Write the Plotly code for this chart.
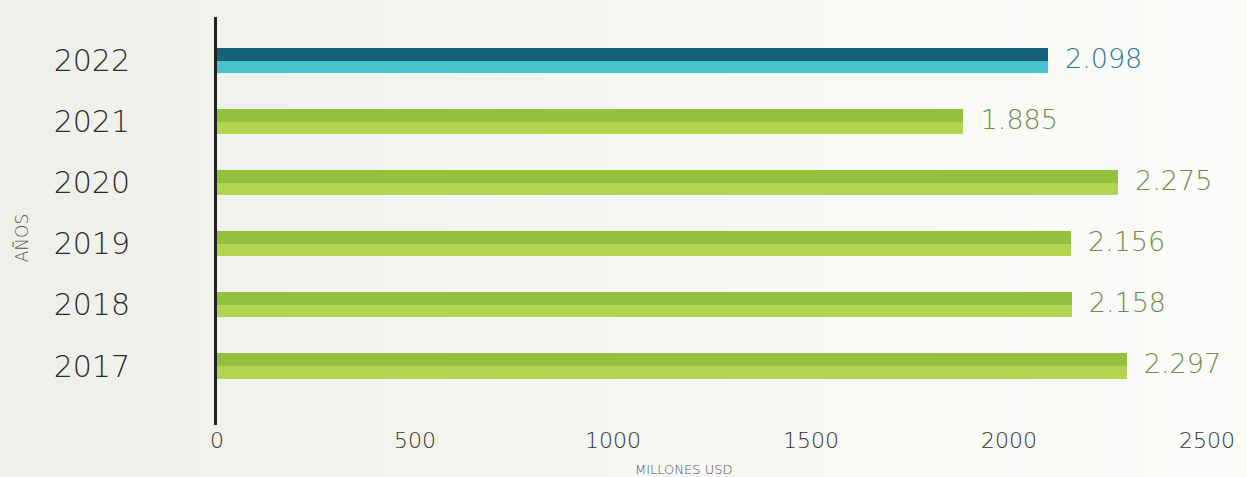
import plotly.graph_objects as go

years = ["2017", "2018", "2019", "2020", "2021", "2022"]
values = [2297, 2158, 2156, 2275, 1885, 2098]
dark_colors = ["#93C13E", "#93C13E", "#93C13E", "#93C13E", "#93C13E", "#15607A"]
light_colors = ["#B2D452", "#B2D452", "#B2D452", "#B2D452", "#B2D452", "#48C3CB"]
label_colors = ["#6E8C4C", "#6E8C4C", "#6E8C4C", "#6E8C4C", "#6E8C4C", "#2E7891"]
x_ticks = [0, 500, 1000, 1500, 2000, 2500]

labels = [f"{v:,}".replace(",", ".") for v in values]

FONT = "DejaVu Sans"

fig = go.Figure()
half = 0.205
fig.add_trace(go.Bar(y=years, x=values, orientation="h", marker=dict(color=dark_colors, line=dict(width=0)),
                     width=half, offset=0, hoverinfo="skip", showlegend=False))
fig.add_trace(go.Bar(y=years, x=values, orientation="h", marker=dict(color=light_colors, line=dict(width=0)),
                     width=half, offset=-half, hoverinfo="skip", showlegend=False))
fig.add_trace(go.Scatter(y=years, x=values, mode="text", text=["  " + t for t in labels],
                         textposition="middle right",
                         textfont=dict(family=FONT, size=27, color=label_colors, weight=200),
                         hoverinfo="skip", showlegend=False, cliponaxis=False))

# background gradient strips
shapes = []
n = 60
c0 = (239, 239, 233)
c1 = (252, 252, 250)
for i in range(n):
    t = i / (n - 1)
    c = tuple(round(c0[k] + (c1[k] - c0[k]) * t) for k in range(3))
    shapes.append(dict(type="rect", xref="paper", yref="paper", layer="below",
                       x0=-0.3 + i * 1.4 / n, x1=-0.3 + (i + 1) * 1.4 / n + 0.002,
                       y0=-0.2, y1=1.1, fillcolor=f"rgb{c}", line=dict(width=0)))

fig.update_layout(
    width=1247, height=477,
    margin=dict(l=217, r=30, t=17, b=52),
    paper_bgcolor="#F2F2EE", plot_bgcolor="rgba(0,0,0,0)",
    barmode="overlay", bargap=0,
    shapes=shapes,
    xaxis=dict(range=[0, 2500], tickvals=x_ticks, showgrid=False, zeroline=False, showline=False,
               tickfont=dict(family=FONT, size=22, color="#333333", weight=200),
               ticks="", fixedrange=True),
    yaxis=dict(type="category", categoryorder="array", categoryarray=years,
               range=[-0.967, 5.72], showgrid=False, zeroline=False,
               showline=True, linecolor="#222222", linewidth=3,
               tickfont=dict(family=FONT, size=30, color="#2A2A2A", weight=200),
               ticks="", ticklabelstandoff=78),
    annotations=[
        dict(text="AÑOS", xref="paper", yref="paper", x=-0.197, y=0.46,
             xanchor="center", yanchor="middle", showarrow=False, textangle=-90,
             font=dict(family=FONT, size=17, color="#555555", weight=200)),
        dict(text="MILLONES USD", xref="paper", yref="paper", x=(688-217)/1000, y=-0.11,
             xanchor="center", yanchor="middle", showarrow=False,
             font=dict(family=FONT, size=13, color="#555555", weight=200)),
    ],
)

fig.write_html("out.html")
